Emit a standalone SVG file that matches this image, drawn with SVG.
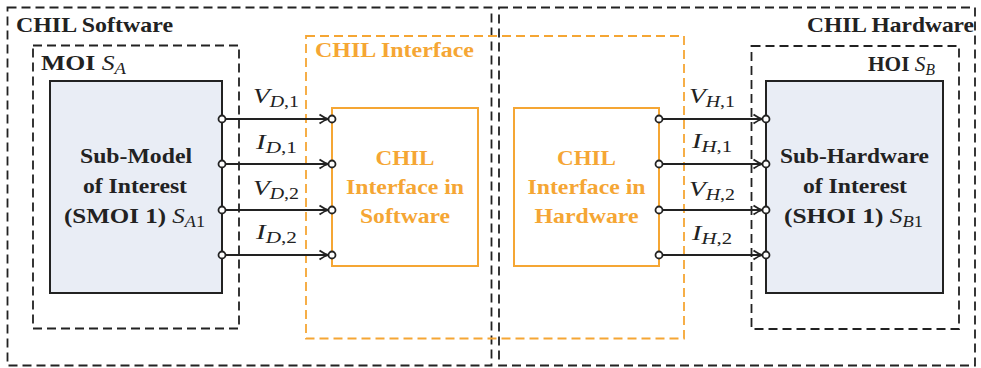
<svg xmlns="http://www.w3.org/2000/svg" width="981" height="368" viewBox="0 0 981 368">
<style>
.dk{fill:none;stroke:#222;stroke-width:1.8;stroke-dasharray:9,5}
.do{fill:none;stroke:#F5A634;stroke-width:1.8;stroke-dasharray:9,5}
.blue{fill:#E9EDF5;stroke:#222;stroke-width:2}
.ob{fill:#fff;stroke:#F5A634;stroke-width:2}
.t{font-family:"Liberation Serif","Times New Roman",serif;font-weight:bold;font-size:22px;fill:#222}
.to{font-family:"Liberation Serif","Times New Roman",serif;font-weight:bold;font-size:22px;fill:#F5A634}
.m{font-family:"Liberation Serif","Times New Roman",serif;font-style:italic;font-weight:normal;font-size:22px;fill:#222}
.sub{font-style:italic;font-size:16px}
.num{font-style:normal;font-size:16px}
.ln{stroke:#222;stroke-width:1.8;fill:none}
.c{fill:#fff;stroke:#222;stroke-width:1.8}
</style>
<defs>
<marker id="ah" markerUnits="userSpaceOnUse" markerWidth="14" markerHeight="12" refX="10" refY="6" orient="auto" overflow="visible">
<path d="M1,1.5 Q6,5 10,6 Q6,7 1,10.5" fill="none" stroke="#222" stroke-width="1.8"/>
</marker>
</defs>

<g id="chil-software">
<rect class="dk" x="7.5" y="7.5" width="484" height="358"/>
<text class="t" x="16" y="32" textLength="157" lengthAdjust="spacingAndGlyphs">CHIL Software</text>
</g>
<g id="chil-hardware">
<rect class="dk" x="499" y="7.5" width="476" height="358"/>
<text class="t" x="807" y="32" textLength="167" lengthAdjust="spacingAndGlyphs">CHIL Hardware</text>
</g>
<g id="chil-interface">
<rect class="do" x="306" y="36" width="378" height="302.5"/>
<text class="to" x="315" y="57" textLength="159" lengthAdjust="spacingAndGlyphs">CHIL Interface</text>
</g>
<g id="moi">
<rect class="dk" x="33" y="45.5" width="206" height="283"/>
<text class="t" x="41" y="70" textLength="85" lengthAdjust="spacingAndGlyphs">MOI <tspan class="m">S</tspan><tspan class="m sub" dy="4">A</tspan></text>
</g>
<g id="hoi">
<rect class="dk" x="751.5" y="46" width="207.5" height="283"/>
<text class="t" x="868" y="70.5" textLength="67" lengthAdjust="spacingAndGlyphs">HOI <tspan class="m">S</tspan><tspan class="m sub" dy="4">B</tspan></text>
</g>
<g id="smoi">
<rect class="blue" x="50" y="81" width="172" height="212"/>
<text class="t" text-anchor="middle" x="136" y="163" textLength="112" lengthAdjust="spacingAndGlyphs">Sub-Model</text>
<text class="t" text-anchor="middle" x="135" y="193" textLength="104" lengthAdjust="spacingAndGlyphs">of Interest</text>
<text class="t" x="64" y="223" textLength="141" lengthAdjust="spacingAndGlyphs">(SMOI 1) <tspan class="m">S</tspan><tspan class="m sub" dy="4">A</tspan><tspan class="m num">1</tspan></text>
</g>
<g id="shoi">
<rect class="blue" x="766" y="81" width="177" height="212"/>
<text class="t" text-anchor="middle" x="854.5" y="163" textLength="149" lengthAdjust="spacingAndGlyphs">Sub-Hardware</text>
<text class="t" text-anchor="middle" x="855" y="193" textLength="104" lengthAdjust="spacingAndGlyphs">of Interest</text>
<text class="t" x="784" y="223" textLength="139" lengthAdjust="spacingAndGlyphs">(SHOI 1) <tspan class="m">S</tspan><tspan class="m sub" dy="4">B</tspan><tspan class="m num">1</tspan></text>
</g>
<g id="if-sw">
<rect class="ob" x="332" y="108" width="146" height="158"/>
<text class="to" text-anchor="middle" x="405" y="165" textLength="59" lengthAdjust="spacingAndGlyphs">CHIL</text>
<text class="to" text-anchor="middle" x="405" y="194" textLength="118" lengthAdjust="spacingAndGlyphs">Interface in</text>
<text class="to" text-anchor="middle" x="405" y="223" textLength="90" lengthAdjust="spacingAndGlyphs">Software</text>
</g>
<g id="if-hw">
<rect class="ob" x="514" y="108" width="145" height="158"/>
<text class="to" text-anchor="middle" x="586.5" y="165" textLength="59" lengthAdjust="spacingAndGlyphs">CHIL</text>
<text class="to" text-anchor="middle" x="586.5" y="194" textLength="118" lengthAdjust="spacingAndGlyphs">Interface in</text>
<text class="to" text-anchor="middle" x="586.5" y="223" textLength="104" lengthAdjust="spacingAndGlyphs">Hardware</text>
</g>

<g id="connectors">
<line class="ln" x1="225.5" y1="119" x2="328.5" y2="119" marker-end="url(#ah)"/>
<line class="ln" x1="225.5" y1="164" x2="328.5" y2="164" marker-end="url(#ah)"/>
<line class="ln" x1="225.5" y1="210" x2="328.5" y2="210" marker-end="url(#ah)"/>
<line class="ln" x1="225.5" y1="255" x2="328.5" y2="255" marker-end="url(#ah)"/>
<line class="ln" x1="662.5" y1="119" x2="762.5" y2="119" marker-end="url(#ah)"/>
<line class="ln" x1="662.5" y1="164" x2="762.5" y2="164" marker-end="url(#ah)"/>
<line class="ln" x1="662.5" y1="210" x2="762.5" y2="210" marker-end="url(#ah)"/>
<line class="ln" x1="662.5" y1="255" x2="762.5" y2="255" marker-end="url(#ah)"/>
<circle class="c" cx="222" cy="119" r="3.5"/><circle class="c" cx="332" cy="119" r="3.5"/>
<circle class="c" cx="222" cy="164" r="3.5"/><circle class="c" cx="332" cy="164" r="3.5"/>
<circle class="c" cx="222" cy="210" r="3.5"/><circle class="c" cx="332" cy="210" r="3.5"/>
<circle class="c" cx="222" cy="255" r="3.5"/><circle class="c" cx="332" cy="255" r="3.5"/>
<circle class="c" cx="659" cy="119" r="3.5"/><circle class="c" cx="766" cy="119" r="3.5"/>
<circle class="c" cx="659" cy="164" r="3.5"/><circle class="c" cx="766" cy="164" r="3.5"/>
<circle class="c" cx="659" cy="210" r="3.5"/><circle class="c" cx="766" cy="210" r="3.5"/>
<circle class="c" cx="659" cy="255" r="3.5"/><circle class="c" cx="766" cy="255" r="3.5"/>
<text class="m" x="253" y="103" textLength="46" lengthAdjust="spacingAndGlyphs">V<tspan class="sub" dy="4">D</tspan><tspan class="num">,1</tspan></text>
<text class="m" x="256" y="149" textLength="41" lengthAdjust="spacingAndGlyphs">I<tspan class="sub" dy="4">D</tspan><tspan class="num">,1</tspan></text>
<text class="m" x="253" y="195" textLength="46" lengthAdjust="spacingAndGlyphs">V<tspan class="sub" dy="4">D</tspan><tspan class="num">,2</tspan></text>
<text class="m" x="256" y="239" textLength="41" lengthAdjust="spacingAndGlyphs">I<tspan class="sub" dy="4">D</tspan><tspan class="num">,2</tspan></text>
<text class="m" x="689" y="103" textLength="46" lengthAdjust="spacingAndGlyphs">V<tspan class="sub" dy="4">H</tspan><tspan class="num">,1</tspan></text>
<text class="m" x="692" y="148" textLength="40" lengthAdjust="spacingAndGlyphs">I<tspan class="sub" dy="4">H</tspan><tspan class="num">,1</tspan></text>
<text class="m" x="689" y="196" textLength="46" lengthAdjust="spacingAndGlyphs">V<tspan class="sub" dy="4">H</tspan><tspan class="num">,2</tspan></text>
<text class="m" x="692" y="240" textLength="40" lengthAdjust="spacingAndGlyphs">I<tspan class="sub" dy="4">H</tspan><tspan class="num">,2</tspan></text>
</g>
</svg>
